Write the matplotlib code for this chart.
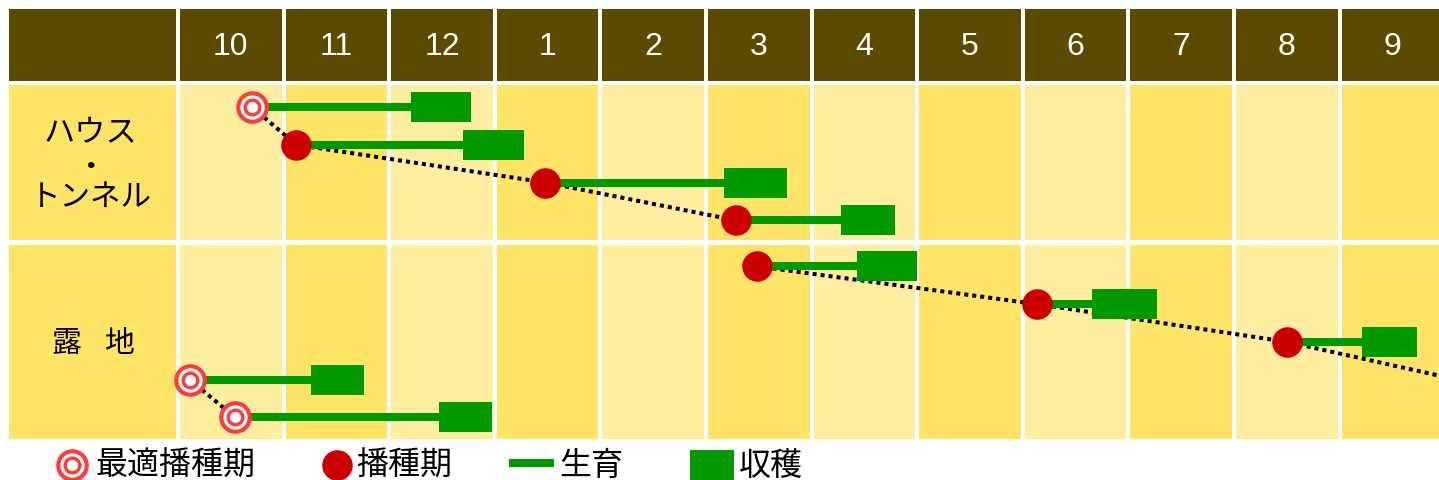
import matplotlib
matplotlib.use('Agg')
import matplotlib.pyplot as plt
from matplotlib.patches import Rectangle

plt.rcParams['font.family'] = ['Noto Sans CJK JP', 'DejaVu Sans']

# ---------------- data ----------------
months = ['10', '11', '12', '1', '2', '3', '4', '5', '6', '7', '8', '9']
row_names = ['ハウス・トンネル', '露地']
legend_labels = ['最適播種期', '播種期', '生育', '収穫']

# ハウス・トンネル (x in months from start of October)
house_sow = [0.70, 1.12, 3.48, 5.28]
house_optimal = [True, False, False, False]
house_harvest_start = [2.21, 2.70, 5.17, 6.28]
house_harvest_end = [2.77, 3.28, 5.77, 6.79]
house_lane = [0.0, 1.0, 2.0, 3.0]

# 露地
open_sow = [5.48, 8.13, 10.50, 0.11, 0.54]
open_optimal = [False, False, False, True, True]
open_harvest_start = [6.43, 8.66, 11.21, 1.26, 2.47]
open_harvest_end = [7.00, 9.27, 11.73, 1.76, 2.97]
open_lane = [4.22, 5.22, 6.22, 7.22, 8.22]

# ---------------- style / layout ----------------
W, H = 1439, 481
PX_X0, PX_MONTH = 178.0, 105.6     # pixel of Oct start, pixels per month
PX_Y0, PX_LANE = 108.0, 37.75      # pixel of lane 0, pixels per lane

def X(px):
    return (px - PX_X0) / PX_MONTH

def Y(px):
    return (px - PX_Y0) / PX_LANE

HEADER = '#5B4A00'
LIGHT = '#FFEEA0'
DARK = '#FFE467'
GREEN = '#009900'
RED = '#CC0000'
RING = '#FF3B3B'

fig = plt.figure(figsize=(W / 100, H / 100), dpi=100)
ax = fig.add_axes([0, 0, 1, 1])
ax.set_xlim(X(0), X(W))
ax.set_ylim(Y(H), Y(0))
ax.axis('off')

def rect(x0, x1, y0, y1, color, z=1):
    ax.add_patch(Rectangle((x0, y0), x1 - x0, y1 - y0, facecolor=color,
                           edgecolor='none', zorder=z))

g = X(PX_X0 + 2) - X(PX_X0)

# header row
rect(X(9), X(175.5), Y(10), Y(82), HEADER)
for i, m in enumerate(months):
    x1 = i + 1 - g if i < len(months) - 1 else X(W + 5)
    rect(i + g, x1, Y(10), Y(82), HEADER)
    ax.text(i + 0.5, Y(47), m, color='white', ha='center', va='center',
            fontsize=23, family=['Liberation Sans', 'DejaVu Sans'], zorder=3)

# body rows
rows_px = [(86, 241), (246, 440)]
for (t, b) in rows_px:
    rect(X(9), X(175.5), Y(t), Y(b), DARK)
    for i in range(len(months)):
        col = LIGHT if i % 2 == 0 else DARK
        x1 = i + 1 - g if i < len(months) - 1 else X(W + 5)
        rect(i + g, x1, Y(t), Y(b), col)

# row labels
lab_x = X(91)
ax.text(lab_x, Y(133), 'ハウス', ha='center', va='center', fontsize=22.5, zorder=3)
ax.text(lab_x, Y(168), '・', ha='center', va='center', fontsize=22, zorder=3)
ax.text(lab_x, Y(197), 'トンネル', ha='center', va='center', fontsize=22, zorder=3)
ax.text(X(66), Y(343), row_names[1][0], ha='center', va='center', fontsize=21.5, zorder=3)
ax.text(X(119), Y(343), row_names[1][1], ha='center', va='center', fontsize=21.5, zorder=3)

DOT = dict(color='black', lw=2.9, linestyle=(0, (1, 1)), dash_capstyle='butt', zorder=4)

def sow_marker(x, y, optimal, clip=True):
    if optimal:
        for s, c in [(23.5, RING), (17.5, 'white'), (13.0, RING), (8.0, 'white')]:
            ax.plot([x], [y], 'o', ms=s, mfc=c, mec='none', zorder=8, clip_on=clip)
    else:
        ax.plot([x], [y], 'o', ms=22, mfc=RED, mec='none', zorder=8, clip_on=clip)

def draw_items(sow, opt, hs, he, lane):
    for x, o, a, b, y in zip(sow, opt, hs, he, lane):
        ax.plot([x, a], [y, y], color=GREEN, lw=5.8, solid_capstyle='butt', zorder=5)
        h = 30 / PX_LANE
        ax.add_patch(Rectangle((a, y - h / 2), b - a, h, facecolor=GREEN,
                               edgecolor='none', zorder=6))
        sow_marker(x, y, o)

# dotted connectors
ax.plot(house_sow, house_lane, **DOT)
ax.plot(open_sow[:3] + [open_sow[3] + 12], open_lane[:4], **DOT)
ax.plot(open_sow[3:], open_lane[3:], **DOT)

draw_items(house_sow, house_optimal, house_harvest_start, house_harvest_end, house_lane)
draw_items(open_sow, open_optimal, open_harvest_start, open_harvest_end, open_lane)

# legend
ly = Y(466)
sow_marker(X(72), ly, True, clip=False)
ax.text(X(95), ly, legend_labels[0], ha='left', va='center', fontsize=23, zorder=3)
sow_marker(X(337), ly, False, clip=False)
ax.text(X(356), ly, legend_labels[1], ha='left', va='center', fontsize=23, zorder=3)
ax.plot([X(509), X(554)], [Y(464), Y(464)], color=GREEN, lw=5.8,
        solid_capstyle='butt', zorder=5, clip_on=False)
ax.text(X(559), ly, legend_labels[2], ha='left', va='center', fontsize=23, zorder=3)
rect(X(690), X(734), Y(451), Y(481), GREEN, z=5)
ax.text(X(739), ly, legend_labels[3], ha='left', va='center', fontsize=23, zorder=3)

fig.savefig('out.png', dpi=100)
